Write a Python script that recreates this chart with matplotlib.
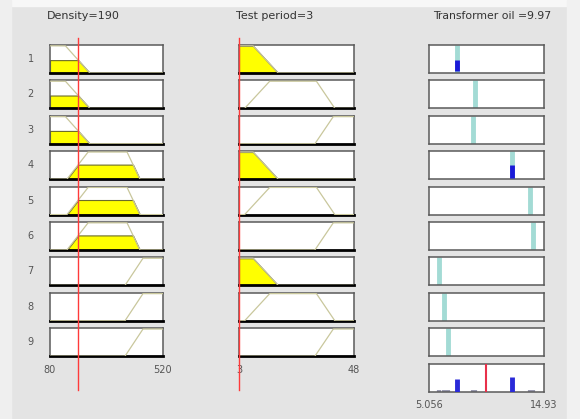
import numpy as np
import matplotlib
matplotlib.use("Agg")
import matplotlib.pyplot as plt
from matplotlib import transforms
from matplotlib.lines import Line2D
from matplotlib.patches import Rectangle

# ---------------------------------------------------------------------------
# Data (fuzzy rule viewer: 2 inputs, 9 rules, Sugeno-style constant outputs)
# ---------------------------------------------------------------------------
density_range = (80, 520)
density_value = 190
density_mfs = {
    "low": [80, 80, 140, 235],
    "medium": [146, 228, 380, 430],
    "high": [372, 442, 520, 520],
}

period_range = (3, 48)
period_value = 3
period_mfs = {
    "low": [3, 3, 8.5, 18.3],
    "medium": [5.2, 15.0, 33.3, 40.5],
    "high": [32.7, 39.9, 48, 48],
}

rule_density = ["low", "low", "low", "medium", "medium", "medium", "high", "high", "high"]
rule_period = ["low", "medium", "high", "low", "medium", "high", "low", "medium", "high"]
rule_outputs = [7.49, 9.01, 8.86, 12.16, 13.73, 14.01, 5.90, 6.37, 6.66]

output_range = (5.056, 14.93)
output_label = "Transformer oil =9.97"

W, H = 580, 419
BG = "#e4e4e4"
MF_COLOR = "#c9c79c"
YELLOW = "#ffff00"


def trap(x, p):
    a, b, c, d = p
    x = np.asarray(x, dtype=float)
    up = np.ones_like(x) if b == a else np.clip((x - a) / (b - a), 0, 1)
    down = np.ones_like(x) if d == c else np.clip((d - x) / (d - c), 0, 1)
    return np.minimum(up, down)


def px_axes(fig, x0, y0, x1, y1):
    return fig.add_axes([x0 / W, 1 - y1 / H, (x1 - x0) / W, (y1 - y0) / H])


def style_box(ax):
    ax.set_yticks([])
    ax.set_xticks([])
    ax.set_facecolor("white")
    for s in ("top", "left", "right"):
        ax.spines[s].set_color("#5a5a5a")
        ax.spines[s].set_linewidth(1.1)
    ax.spines["bottom"].set_color("black")
    ax.spines["bottom"].set_linewidth(2.0)


fig = plt.figure(figsize=(W / 100, H / 100), dpi=100, facecolor=BG)
fig.add_artist(Rectangle((0, 1 - 6 / H), 1, 6 / H, transform=fig.transFigure,
                         color="#f7f7f7", zorder=0))
fig.add_artist(Rectangle((0, 0), 11 / W, 1, transform=fig.transFigure,
                         color="#efefef", zorder=0))
fig.add_artist(Rectangle((567 / W, 0), 13 / W, 1, transform=fig.transFigure,
                         color="#f1f1f1", zorder=0))

row_top0, row_pitch, row_h = 45, 35.4, 28
cols = [(50, 163), (239, 354), (429, 544)]

# firing strengths
mu_d = [float(trap(density_value, density_mfs[k])) for k in rule_density]
mu_p = [float(trap(period_value, period_mfs[k])) for k in rule_period]
firing = np.minimum(mu_d, mu_p)
out_value = float(np.sum(firing * np.array(rule_outputs)) / np.sum(firing))

inputs = [
    (density_range, density_value, density_mfs, rule_density, f"Density={density_value}"),
    (period_range, period_value, period_mfs, rule_period, f"Test period={period_value}"),
]

for ci, (rng, val, mfs, rule_mf, title) in enumerate(inputs):
    x0, x1 = cols[ci]
    xs = np.linspace(rng[0], rng[1], 600)
    last_ax = None
    for i in range(9):
        top = row_top0 + i * row_pitch
        ax = px_axes(fig, x0, top, x1, top + row_h)
        style_box(ax)
        ax.set_xlim(*rng)
        ax.set_ylim(0, 1.03)
        p = mfs[rule_mf[i]]
        ys = trap(xs, p)
        mu = float(trap(val, p))
        if mu > 0:
            ax.fill_between(xs, 0, np.minimum(ys, mu), facecolor=YELLOW,
                            edgecolor="#6b6b2a", linewidth=0.8, zorder=2)
        ax.plot(xs, ys, color=MF_COLOR, lw=0.9, zorder=3)
        if ci == 0:
            ax.text(-0.17, 0.5, str(i + 1), transform=ax.transAxes,
                    ha="center", va="center", fontsize=7, color="#555555")
        last_ax = ax
    last_ax.set_xticks([rng[0], rng[1]])
    last_ax.set_xticklabels([f"{rng[0]:g}", f"{rng[1]:g}"])
    last_ax.tick_params(axis="x", length=0, pad=6, labelsize=7, labelcolor="#555555")
    # red input marker spanning the whole column
    tr = transforms.blended_transform_factory(last_ax.transData, fig.transFigure)
    fig.add_artist(Line2D([val, val], [1 - 38 / H, 1 - 390 / H], transform=tr,
                          color="#ff3a3a", lw=1.0, zorder=10))
    fig.text((x0 - 3) / W, 1 - 16 / H, title, ha="left", va="center",
             fontsize=8, color="#333333")

# output column
x0, x1 = cols[2]
for i in range(9):
    top = row_top0 + i * row_pitch
    ax = px_axes(fig, x0, top, x1, top + row_h)
    style_box(ax)
    ax.spines["bottom"].set_linewidth(1.1)
    ax.spines["bottom"].set_color("#5a5a5a")
    ax.set_xlim(*output_range)
    ax.set_ylim(0, 1.03)
    ax.vlines(rule_outputs[i], 0, 1.03, color="#a3dbd5", lw=3.5, zorder=2)
    if firing[i] > 0:
        ax.vlines(rule_outputs[i], 0.06, firing[i], color="#1a1ad8", lw=3.5, zorder=3)

top = row_top0 + 9 * row_pitch
ax = px_axes(fig, x0, top, x1, top + row_h)
style_box(ax)
ax.spines["bottom"].set_linewidth(1.1)
ax.spines["bottom"].set_color("#5a5a5a")
ax.set_xlim(*output_range)
ax.set_ylim(0, 1.03)
for o, f in zip(rule_outputs, firing):
    if f > 0:
        ax.vlines(o, 0, f, color="#2a2ad8", lw=3.5, zorder=3)
    else:
        ax.vlines(o, 0, 0.05, color="#9a9ab0", lw=3, zorder=2)
ax.axvline(out_value, color="#e8304a", lw=1.5, zorder=4)
ax.set_xticks(list(output_range))
ax.set_xticklabels([f"{output_range[0]:g}", f"{output_range[1]:g}"])
ax.tick_params(axis="x", length=0, pad=6, labelsize=7, labelcolor="#555555")

fig.text(433 / W, 1 - 16 / H, output_label, ha="left", va="center",
         fontsize=7.8, color="#333333")

fig.savefig("out.png", dpi=100, facecolor=BG)
